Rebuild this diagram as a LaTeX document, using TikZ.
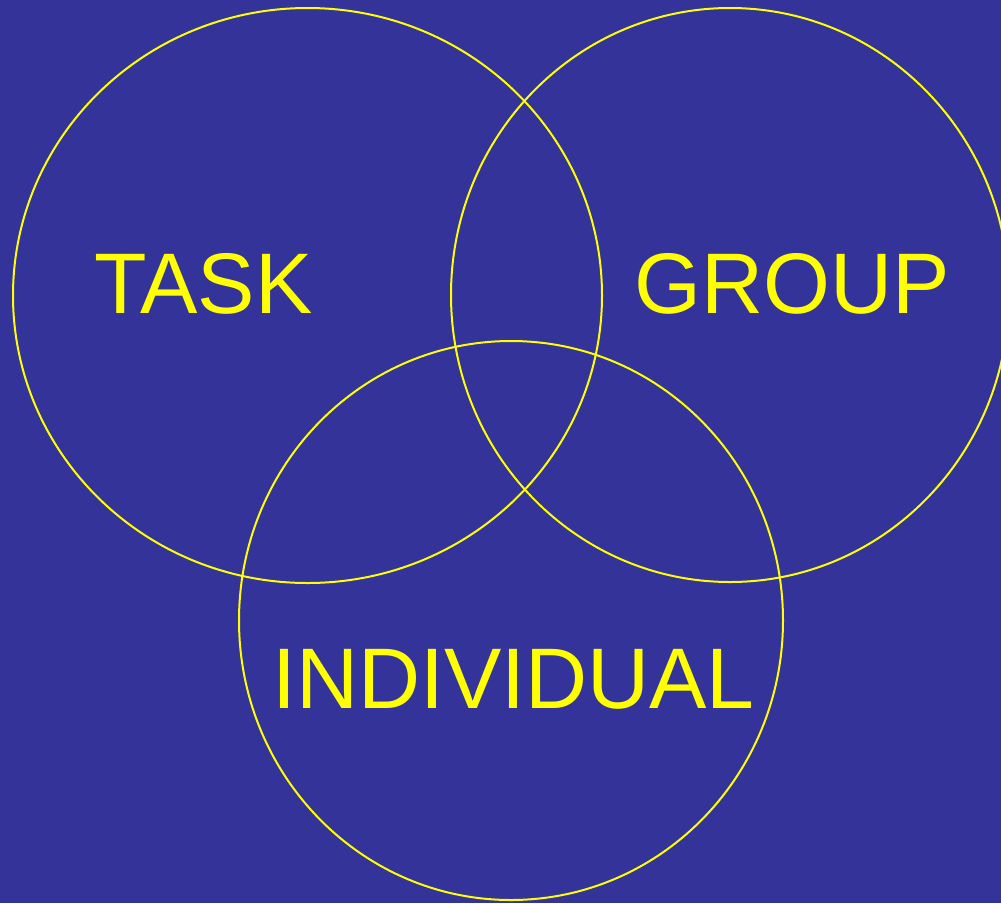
\documentclass[tikz,border=0pt]{standalone}
\usepackage{fontspec}
\setmainfont{Liberation Sans}
\usetikzlibrary{shapes.geometric}
\definecolor{bgblue}{RGB}{51,51,153}
\definecolor{vyellow}{RGB}{255,255,0}
\begin{document}
\begin{tikzpicture}[x=1pt,y=-1pt,
  ring/.style={draw=vyellow,line width=2pt,ellipse,inner sep=0pt,outer sep=0pt},
  lbl/.style={text=vyellow,font=\fontsize{86}{96}\selectfont,anchor=base,inner sep=0pt}]
\fill[bgblue] (0,0) rectangle (1001,903);
\useasboundingbox (0,0) rectangle (1001,903);
\node[ring,minimum width=589pt,minimum height=575pt] (task) at (307.5,295.5) {};
\node[ring,minimum width=558pt,minimum height=574pt] (group) at (730,295) {};
\node[ring,minimum width=544pt,minimum height=559pt] (indiv) at (511,620.5) {};
\node[lbl] (tasklbl) at (203.5,313) {TASK};
\node[lbl] (grouplbl) at (792.5,313) {GROUP};
\node[lbl] (indivlbl) at (513.5,708) {INDIVIDUAL};
\end{tikzpicture}
\end{document}
